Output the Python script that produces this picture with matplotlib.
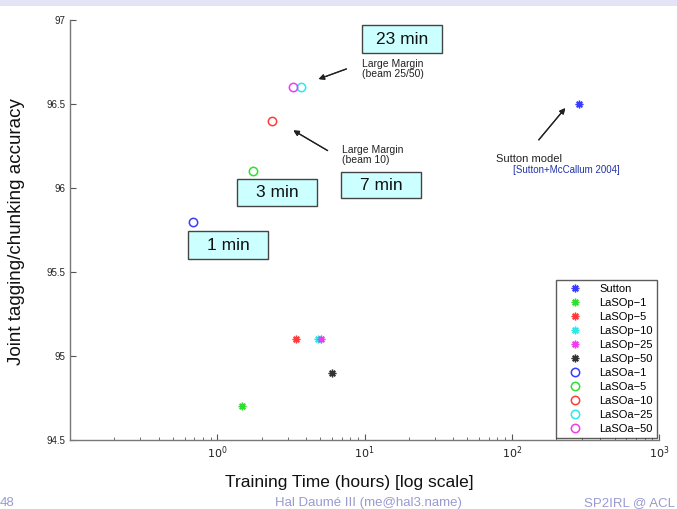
import numpy as np
import matplotlib
matplotlib.use('Agg')
import matplotlib.pyplot as plt
from matplotlib.patches import Rectangle

plt.rcParams['font.family'] = ['Liberation Sans', 'DejaVu Sans']

# Dados
sutton_time = [286.0]
sutton_acc = [96.5]

lasop_names = ['LaSOp-1', 'LaSOp-5', 'LaSOp-10', 'LaSOp-25', 'LaSOp-50']
lasop_time = [1.48, 3.45, 4.8, 5.05, 6.0]
lasop_acc = [94.7, 95.1, 95.1, 95.1, 94.9]

lasoa_names = ['LaSOa-1', 'LaSOa-5', 'LaSOa-10', 'LaSOa-25', 'LaSOa-50']
lasoa_time = [0.68, 1.74, 2.37, 3.7, 3.27]
lasoa_acc = [95.8, 96.1, 96.4, 96.6, 96.6]

colors = ['#3b3bff', '#2ee02e', '#ff3b3b', '#2ee8e8', '#f03cf0', '#333333']
yticks = [94.5, 95, 95.5, 96, 96.5, 97]

W, H = 677, 509
fig = plt.figure(figsize=(W / 100, H / 100), dpi=100)
fig.patch.set_facecolor('white')


def fx(px):
    return px / W


def fy(py):
    return 1 - py / H


# faixa do slide no topo
fig.add_artist(Rectangle((0, fy(6)), 1, 6 / H, transform=fig.transFigure,
                         facecolor='#e4e4f6', edgecolor='none'))

ax = fig.add_axes([fx(70), fy(440), fx(659) - fx(70), fy(20) - fy(440)])
ax.set_xscale('log')
ax.set_xlim(0.1, 1000)
ax.set_ylim(94.5, 97)

star = (8, 2, 0)  # asterisco estilo MATLAB
ax.plot(sutton_time, sutton_acc, marker=star, ls='none', color=colors[0], ms=5.5,
        mew=1.0, label='Sutton')
for i in range(len(lasop_names)):
    ax.plot(lasop_time[i], lasop_acc[i], marker=star, ls='none', color=colors[i + 1],
            ms=5.5, mew=1.0, label=lasop_names[i].replace('-', '\u2212'))
for i in range(len(lasoa_names)):
    ax.plot(lasoa_time[i], lasoa_acc[i], 'o', mfc='none', mec=colors[i], ms=6, mew=1.1,
            label=lasoa_names[i].replace('-', '\u2212'))

for s in ['top', 'right']:
    ax.spines[s].set_visible(False)
for s in ['left', 'bottom']:
    ax.spines[s].set_color('#777777')
    ax.spines[s].set_linewidth(1.0)
ax.tick_params(which='both', direction='in', colors='#555555', labelcolor='#222222')
ax.tick_params(which='major', length=4, labelsize=7)
ax.tick_params(which='minor', length=2)
ax.set_yticks(yticks)
ax.set_yticklabels([f'{v:g}' for v in yticks])
ax.set_xticks([1, 10, 100, 1000])
ax.set_xticklabels([r'$10^0$', r'$10^1$', r'$10^2$', r'$10^3$'], fontsize=8)

fig.text(fx(349), fy(483), 'Training Time (hours) [log scale]', fontsize=12.5,
         ha='center', va='center', color='#111111')
fig.text(fx(17), fy(232), 'Joint tagging/chunking accuracy', fontsize=13.5,
         rotation=90, ha='center', va='center', color='#111111')

leg = ax.legend(loc='lower right', fontsize=8, handlelength=2.8, labelspacing=0.36,
                borderpad=0.35, handletextpad=0.8, borderaxespad=0.2, frameon=True,
                fancybox=False, bbox_to_anchor=(1.0, 0.0))
leg.get_frame().set_edgecolor('#333333')
leg.get_frame().set_linewidth(1.0)


# caixas de tempo
def time_box(x0, y0, x1, y1, txt):
    fig.add_artist(Rectangle((fx(x0), fy(y1)), fx(x1) - fx(x0), fy(y0) - fy(y1),
                             transform=fig.transFigure, facecolor='#ccffff',
                             edgecolor='#444444', lw=1.0))
    fig.text(fx((x0 + x1) / 2), fy((y0 + y1) / 2), txt, fontsize=12.5,
             ha='center', va='center', color='#111111')


time_box(362, 25, 442, 53, '23 min')
time_box(341, 172, 421, 198, '7 min')
time_box(237, 179, 317, 206, '3 min')
time_box(188, 231, 268, 259, '1 min')

fig.text(fx(362), fy(69), 'Large Margin\n(beam 25/50)', fontsize=7.5, ha='left',
         va='center', color='#222222', linespacing=1.1)
fig.text(fx(342), fy(155), 'Large Margin\n(beam 10)', fontsize=7.5, ha='left',
         va='center', color='#222222', linespacing=1.1)
fig.text(fx(496), fy(159), 'Sutton model', fontsize=8, ha='left', va='center',
         color='#222222')
fig.text(fx(513), fy(170), '[Sutton+McCallum 2004]', fontsize=7, ha='left',
         va='center', color='#2233aa')

arrow = dict(arrowstyle='-|>', color='#222222', lw=0.9, mutation_scale=8)
fig.add_artist(plt.annotate('', xy=(fx(316), fy(80)), xytext=(fx(349), fy(68)),
                            xycoords='figure fraction', arrowprops=arrow))
fig.add_artist(plt.annotate('', xy=(fx(291), fy(129)), xytext=(fx(330), fy(152)),
                            xycoords='figure fraction', arrowprops=arrow))
fig.add_artist(plt.annotate('', xy=(fx(567), fy(106)), xytext=(fx(537), fy(142)),
                            xycoords='figure fraction', arrowprops=arrow))

# rodapé do slide
foot = '#9a9ad0'
fig.text(fx(0), fy(503), '48', fontsize=9.5, ha='left', va='center', color=foot)
fig.text(fx(368), fy(503), 'Hal Daumé III (me@hal3.name)', fontsize=9.5,
         ha='center', va='center', color=foot)
fig.text(fx(675), fy(503), 'SP2IRL @ ACL', fontsize=9.5, ha='right', va='center',
         color=foot)

fig.savefig('out.png', dpi=100)
